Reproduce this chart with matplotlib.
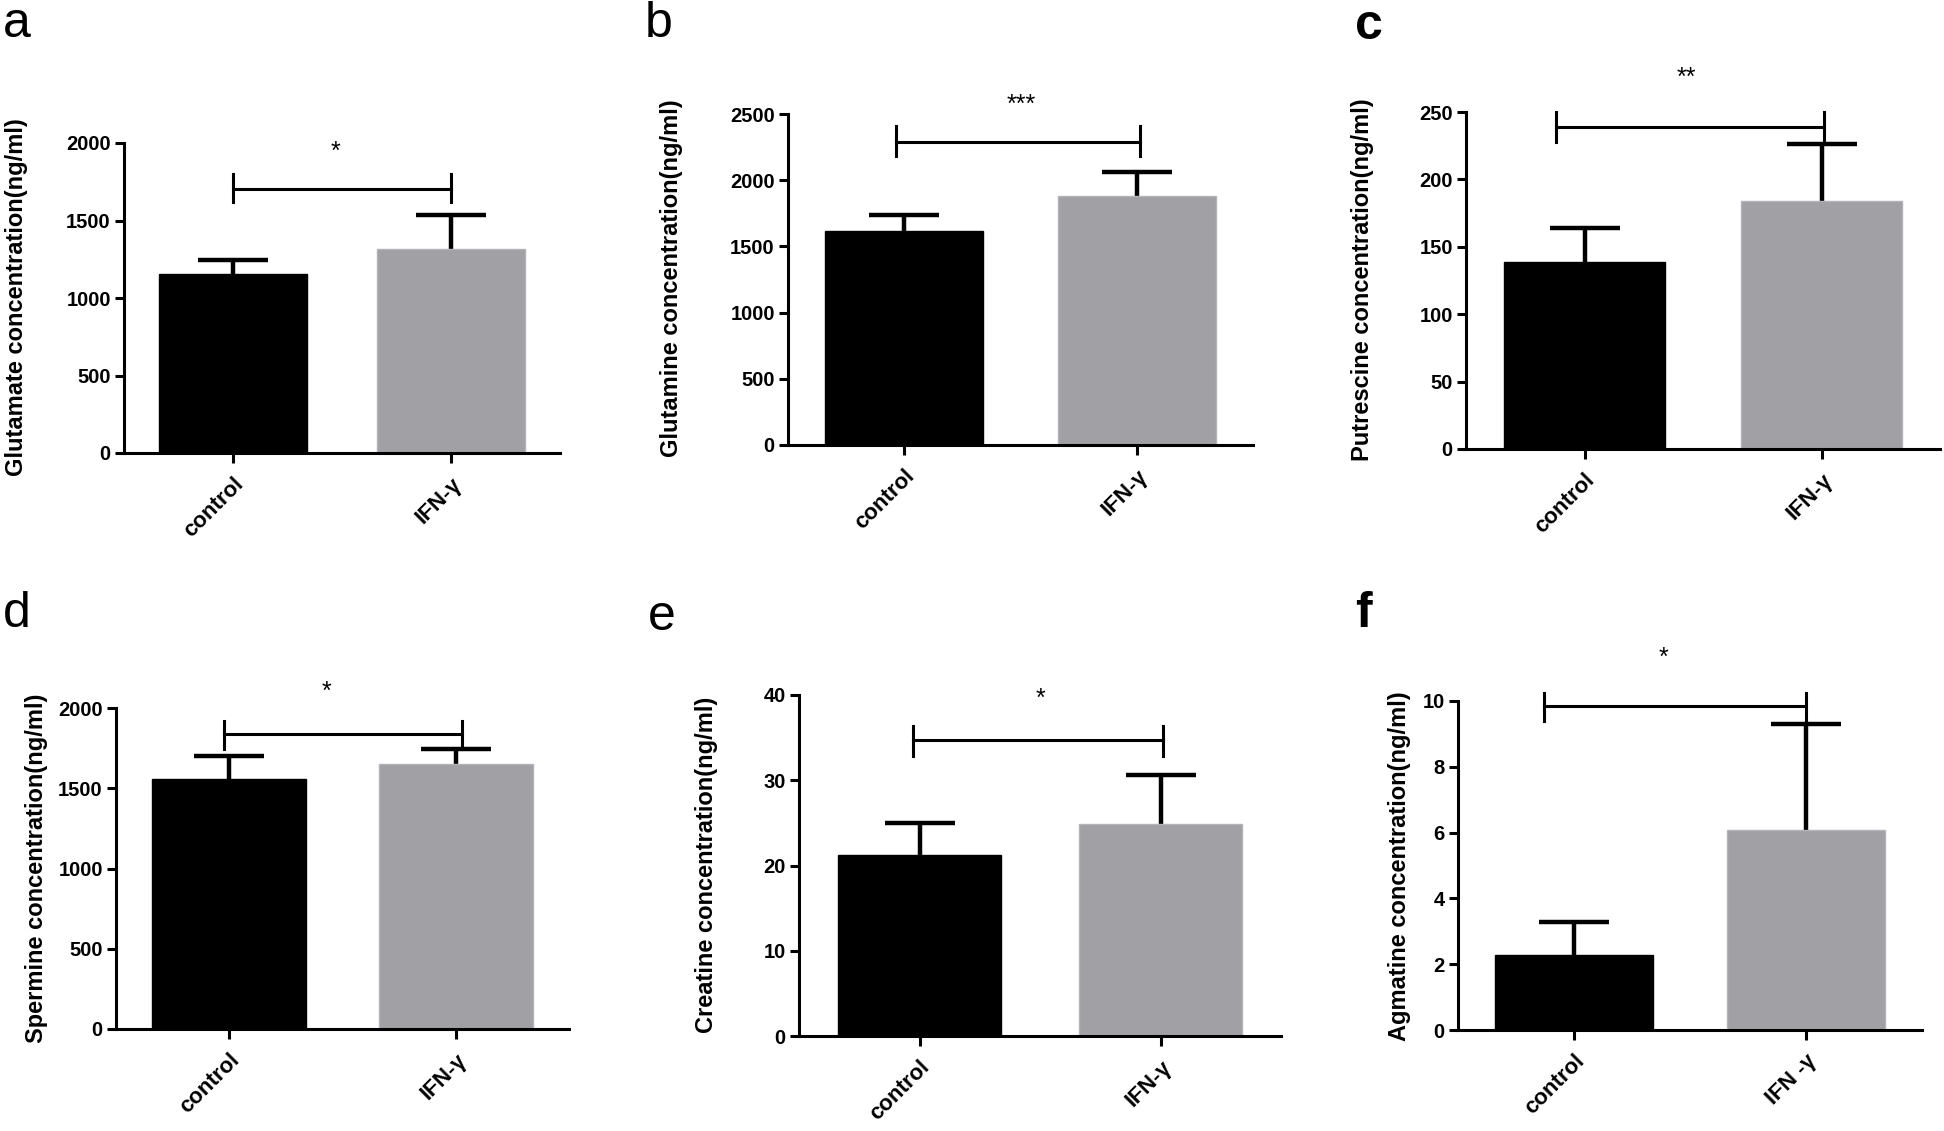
import numpy as np
import matplotlib
matplotlib.use('Agg')
import matplotlib.pyplot as plt
from matplotlib import font_manager

plt.rcParams['font.family'] = ['Liberation Sans', 'DejaVu Sans']

# narrow face for the y labels if it exists
try:
    font_manager.findfont('Liberation Sans Narrow', fallback_to_default=False)
    ylab_family = ['Liberation Sans Narrow', 'Liberation Sans']
    ylab_size = 20.3
except Exception:
    ylab_family = ['Liberation Sans', 'DejaVu Sans']
    ylab_size = 17

# data (mean, upper error = SD)
groups = ['control', 'IFN-γ']
names = ['Glutamate', 'Glutamine', 'Putrescine', 'Spermine', 'Creatine', 'Agmatine']
panel_letters = ['a', 'b', 'c', 'd', 'e', 'f']
means_a = [1152, 1317]
sd_a = [96, 221]
means_b = [1618, 1877]
sd_b = [121, 186]
means_c = [139, 184]
sd_c = [25, 42]
means_d = [1559, 1651]
sd_d = [145, 92]
means_e = [21.2, 24.9]
sd_e = [3.8, 5.7]
means_f = [2.27, 6.07]
sd_f = [1.02, 3.23]
ymax = [2000, 2500, 250, 2000, 40, 10]
ystep = [500, 500, 50, 500, 10, 2]
stars = ['*', '***', '**', '*', '*', '*']
# significance bracket: y, end-top, end-bottom, x-left, x-right, star y, star x
bracket_y = [1703, 2290, 239, 1836, 34.7, 9.84]
bracket_top = [1800, 2411, 250, 1921, 36.4, 10.25]
bracket_bot = [1620, 2184, 228, 1743, 32.8, 9.4]
bracket_x0 = [0.0, -0.036, -0.121, -0.022, -0.029, -0.128]
bracket_x1 = [1.0, 1.014, 1.012, 1.028, 1.012, 1.0]
star_y = [1940, 2572, 275, 2099, 39.5, 11.3]
star_x = [0.47, 0.503, 0.43, 0.43, 0.5, 0.385]

all_means = [means_a, means_b, means_c, means_d, means_e, means_f]
all_sd = [sd_a, sd_b, sd_c, sd_d, sd_e, sd_f]

W, H = 1944, 1131
# axes boxes in pixels: left, top, right, bottom
boxes = [(124, 143, 560, 453), (788, 114, 1253, 445), (1466, 112, 1940, 449),
         (116, 708, 569, 1029), (799, 695, 1281, 1036), (1458, 701, 1922, 1030)]
ylab_pos = [(17, 297), (671, 278), (1362, 280), (37, 868), (706, 865), (1399, 866)]
letter_pos = [(3, 24), (645, 24), (1355, 26), (3, 614), (648, 617), (1355, 614)]

fig = plt.figure(figsize=(19.44, 11.31), dpi=100)

for i in range(6):
    l, t, r, b = boxes[i]
    ax = fig.add_axes([l / W, 1 - b / H, (r - l) / W, (b - t) / H])
    x = np.arange(2)
    ax.bar(x, all_means[i], width=0.68, color=['black', '#a1a1a5'],
           edgecolor=['black', '#b2b4b8'], linewidth=1, zorder=2)
    eb = ax.errorbar(x, all_means[i], yerr=[[0, 0], all_sd[i]], fmt='none',
                     ecolor='black', elinewidth=3.2, capsize=25, capthick=3.2, zorder=1)
    eb[1][0].set_visible(False)  # no lower cap
    # bracket
    ax.plot([bracket_x0[i], bracket_x1[i]], [bracket_y[i]] * 2, color='black', lw=2.2, clip_on=False)
    for bx in (bracket_x0[i], bracket_x1[i]):
        ax.plot([bx, bx], [bracket_bot[i], bracket_top[i]], color='black', lw=2.2, clip_on=False)
    ax.text(star_x[i], star_y[i], stars[i], ha='center', va='center', fontsize=18)

    ax.set_xlim(-0.5, 1.5)
    ax.set_ylim(0, ymax[i])
    ax.set_yticks(np.arange(0, ymax[i] + ystep[i] / 2, ystep[i]))
    ax.set_xticks(x)
    labels = groups if i != 5 else ['control', 'IFN -γ']
    ax.set_xticklabels(labels, rotation=45, ha='right', rotation_mode='anchor',
                       fontsize=16, fontweight='bold')
    for lab in ax.get_yticklabels():
        lab.set_fontsize(14.5)
        lab.set_fontweight('bold')
    ax.spines['top'].set_visible(False)
    ax.spines['right'].set_visible(False)
    ax.spines['left'].set_linewidth(2.2)
    ax.spines['bottom'].set_linewidth(2.2)
    ax.tick_params(axis='y', length=6.5, width=2.2, pad=3)
    ax.tick_params(axis='x', length=7, width=2.2, pad=8)

    fig.text(ylab_pos[i][0] / W, 1 - ylab_pos[i][1] / H,
             names[i] + ' concentration(ng/ml)', rotation=90, ha='center',
             va='center', fontsize=ylab_size, fontweight='bold', family=ylab_family)
    fig.text(letter_pos[i][0] / W, 1 - letter_pos[i][1] / H, panel_letters[i],
             ha='left', va='center', fontsize=36,
             fontweight='bold' if panel_letters[i] in ('c', 'f') else 'normal')

fig.savefig('out.png', dpi=100)
